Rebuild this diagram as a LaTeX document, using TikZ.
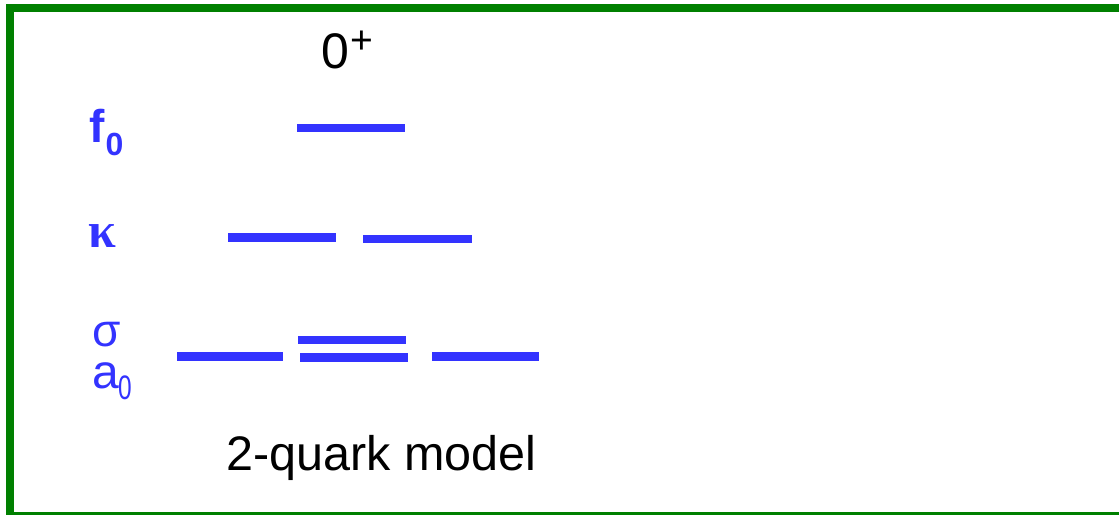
\documentclass[tikz,border=0pt]{standalone}
\usepackage{fontspec}
\setmainfont{Liberation Sans}
\newfontfamily\serifgr{Liberation Serif}
\definecolor{frameg}{RGB}{0,128,0}
\definecolor{lvlblue}{RGB}{51,51,255}
\tikzset{
  lvl/.style={draw=lvlblue, line width=8.5pt},
  lbl/.style={inner sep=0pt, outer sep=0pt, anchor=base west, text=lvlblue},
  blk/.style={inner sep=0pt, outer sep=0pt, anchor=base west, text=black}
}
\newcommand{\fsz}[1]{\fontsize{#1}{#1}\selectfont}
\begin{document}
\begin{tikzpicture}[x=1pt,y=-1pt]
\useasboundingbox (0,0) rectangle (1119,514);
\begin{scope}
\clip (0,0) rectangle (1119,514);
\coordinate (tr) at (1119,8);
\coordinate (tl) at (10,8);
\coordinate (bl) at (10,516);
\coordinate (br) at (1119,516);
\draw[frameg, line width=8pt, line join=miter] (tr) -- (tl) -- (bl) -- (br);
\end{scope}
% title
\node[blk] (zero) at (321,68) {\fsz{50}0};
\node[blk] (plus) at (350.8,53.6) {\fsz{39}+};
% labels
\node[lbl] (f) at (89,142) {\fsz{46}\bfseries f};
\node[lbl] (fsub) at (105.5,155) {\fsz{32}\bfseries 0};
\node[lbl] (kappa) at (88,247) {\fsz{50}\serifgr\bfseries κ};
\node[lbl, text depth=0pt, text height=24pt] (sigma) at (92,346) {\fsz{46}σ};
\node[lbl, text depth=0pt, text height=26pt] (a) at (92,388) {\fsz{48}a};
\node[lbl] (asub) at (118,399) {\fsz{34}\scalebox{0.72}[1]{0}};
% levels
\draw[lvl] (297,128) -- (405,128);
\draw[lvl] (228,237.5) -- (336,237.5);
\draw[lvl] (363,239) -- (472,239);
\draw[lvl] (298,340) -- (406,340);
\draw[lvl] (300,357.5) -- (408,357.5);
\draw[lvl] (177,356.5) -- (283,356.5);
\draw[lvl] (432,356.5) -- (539,356.5);
% caption
\node[blk] (cap) at (226.5,470) {\fsz{48.5}2-quark model};
\end{tikzpicture}
\end{document}
